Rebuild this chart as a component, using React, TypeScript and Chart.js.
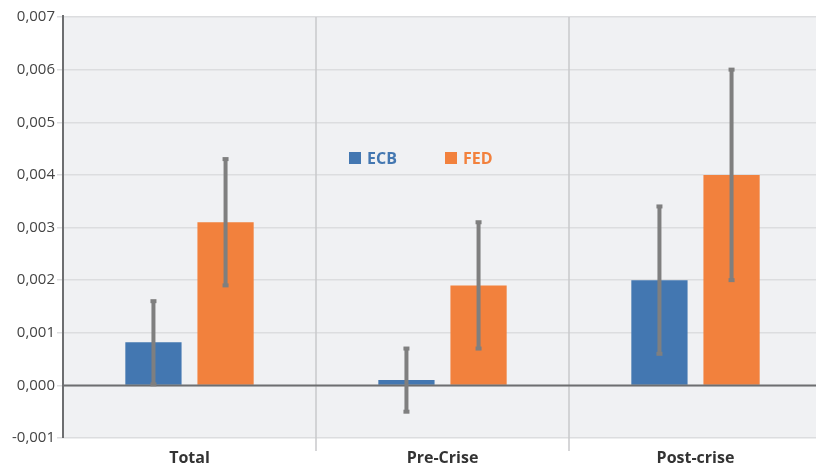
import React, { useEffect, useRef } from "react";
import { Chart, registerables } from "chart.js";
Chart.register(...registerables);

const categories = ["Total", "Pre-Crise", "Post-crise"];
const ecbValues = [0.00082, 0.0001, 0.002];
const fedValues = [0.0031, 0.0019, 0.004];
const ecbLow = [0.00002, -0.0005, 0.0006];
const ecbHigh = [0.0016, 0.0007, 0.0034];
const fedLow = [0.0019, 0.0007, 0.002];
const fedHigh = [0.0043, 0.0031, 0.006];
const yTicks = [-0.001, 0, 0.001, 0.002, 0.003, 0.004, 0.005, 0.006, 0.007];

const FONT = "'Open Sans', sans-serif";

const decor = {
  id: "decor",
  beforeDraw(chart: any) {
    const { ctx, chartArea: a } = chart;
    ctx.save();
    ctx.fillStyle = "#f0f1f3";
    ctx.fillRect(a.left, a.top, a.right - a.left, a.bottom - a.top);
    ctx.restore();
  },
  afterDatasetsDraw(chart: any) {
    const { ctx, chartArea: a, scales } = chart;
    const x = scales.x, y = scales.y;
    ctx.save();
    ctx.strokeStyle = "#c8c9cb";
    ctx.lineWidth = 1.5;
    for (let i = 1; i < categories.length; i++) {
      const px = (x.getPixelForValue(i - 1) + x.getPixelForValue(i)) / 2;
      ctx.beginPath();
      ctx.moveTo(px, a.top);
      ctx.lineTo(px, a.bottom + 13);
      ctx.stroke();
    }
    ctx.strokeStyle = "#6d6e70";
    ctx.lineWidth = 2;
    ctx.beginPath();
    ctx.moveTo(a.left, y.getPixelForValue(0));
    ctx.lineTo(a.right, y.getPixelForValue(0));
    ctx.stroke();
    ctx.beginPath();
    ctx.moveTo(a.left, a.top - 2);
    ctx.lineTo(a.left, a.bottom);
    ctx.stroke();
    const lows = [ecbLow, fedLow], highs = [ecbHigh, fedHigh];
    ctx.strokeStyle = "#7f7f7f";
    ctx.lineWidth = 4;
    ctx.lineCap = "butt";
    [0, 1].forEach((d) => {
      const meta = chart.getDatasetMeta(d);
      meta.data.forEach((bar: any, i: number) => {
        const px = bar.x;
        const y1 = y.getPixelForValue(lows[d][i]);
        const y2 = y.getPixelForValue(highs[d][i]);
        ctx.beginPath();
        ctx.moveTo(px, y1);
        ctx.lineTo(px, y2);
        ctx.stroke();
        ctx.fillStyle = "#7f7f7f";
        ctx.fillRect(px - 3, y1 - 2, 6, 4);
        ctx.fillRect(px - 3, y2 - 2, 6, 4);
      });
    });
    ctx.restore();
  },
};

export default function App() {
  const ref = useRef<HTMLCanvasElement>(null);
  useEffect(() => {
    const chart = new Chart(ref.current!, {
      type: "bar",
      data: {
        labels: categories,
        datasets: [
          { label: "ECB", data: ecbValues, backgroundColor: "#4377b1", categoryPercentage: 0.57, barPercentage: 0.78 },
          { label: "FED", data: fedValues, backgroundColor: "#f2813d", categoryPercentage: 0.57, barPercentage: 0.78 },
        ],
      },
      options: {
        responsive: false,
        animation: false,
        layout: { padding: { top: 17, right: 0, left: 0, bottom: 0 } },
        plugins: { legend: { display: false }, tooltip: { enabled: false } },
        scales: {
          x: {
            grid: { display: false },
            border: { display: false },
            ticks: { color: "#333", font: { family: FONT, size: 16, weight: "bold" }, padding: 3 },
            afterFit: (s: any) => { s.height = 28; },
          },
          y: {
            min: -0.001,
            max: 0.007,
            afterBuildTicks: (s: any) => { s.ticks = yTicks.map((v) => ({ value: v })); },
            grid: { color: "#dcdddf", lineWidth: 1.5, drawTicks: true, tickLength: 6 },
            border: { display: false },
            ticks: {
              color: "#444",
              font: { family: FONT, size: 15 },
              padding: 2,
              callback: (v: any) => Number(v).toFixed(3).replace(".", ","),
            },
            afterFit: (s: any) => { s.width = 63; },
          },
        },
      },
      plugins: [decor],
    });
    return () => chart.destroy();
  }, []);
  return (
    <div style={{ position: "fixed", left: 0, top: 0, width: 816, height: 466, background: "#fff", overflow: "hidden" }}>
      <canvas ref={ref} width={822} height={466} />
      <div style={{ position: "absolute", left: 349, top: 147, display: "flex", alignItems: "center", fontFamily: FONT, fontWeight: "bold", fontSize: 16 }}>
        <span style={{ width: 12, height: 12, background: "#4377b1", display: "inline-block", marginRight: 6 }} />
        <span style={{ color: "#4377b1", marginRight: 48 }}>ECB</span>
        <span style={{ width: 12, height: 12, background: "#f2813d", display: "inline-block", marginRight: 6 }} />
        <span style={{ color: "#f2813d" }}>FED</span>
      </div>
    </div>
  );
}
